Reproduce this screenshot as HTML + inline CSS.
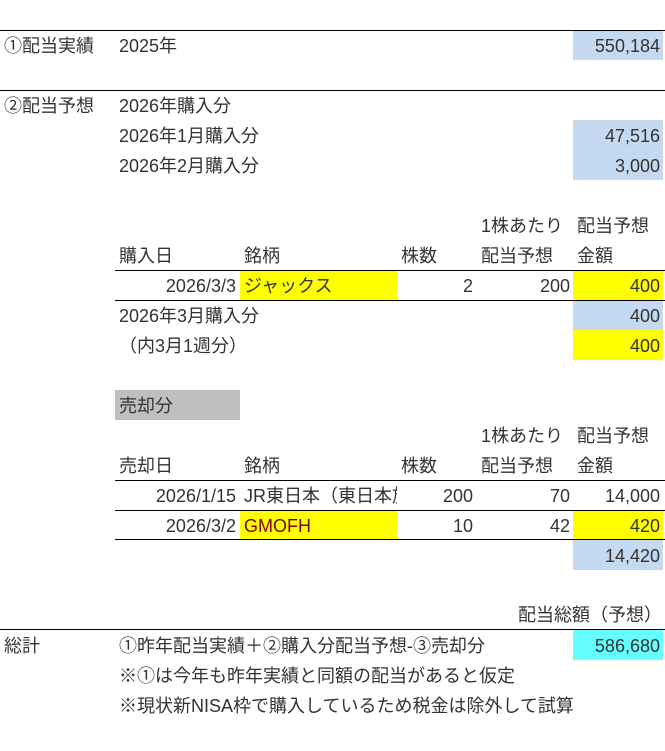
<!DOCTYPE html>
<html><head><meta charset="utf-8"><style>
body{margin:0;width:665px;height:751px;background:#fff;position:relative;overflow:hidden;font-family:"Liberation Sans","Noto Sans CJK JP",sans-serif;font-size:18px;color:#333}
div{position:absolute}
.t{height:30px;line-height:32px;white-space:nowrap}
.r{text-align:right}
.h{height:1px;background:#000}
.b{background:#c5d9f1}.y{background:#ffff00}.g{background:#bfbfbf}.c{background:#66ffff}
</style></head><body>
<div class="h" style="left:0;top:30px;width:665px"></div>
<div class="h" style="left:0;top:90px;width:665px"></div>
<div class="h" style="left:115px;top:270px;width:550px"></div>
<div class="h" style="left:115px;top:300px;width:550px"></div>
<div class="h" style="left:115px;top:480px;width:550px"></div>
<div class="h" style="left:115px;top:510px;width:550px"></div>
<div class="h" style="left:115px;top:539px;width:550px"></div>
<div class="h" style="left:0;top:629px;width:665px"></div>

<div class="b" style="left:573px;top:31px;width:90px;height:29px"></div>
<div class="b" style="left:573px;top:120px;width:90px;height:60px"></div>
<div class="y" style="left:240px;top:271px;width:157px;height:29px"></div>
<div class="y" style="left:573px;top:271px;width:90px;height:29px"></div>
<div class="b" style="left:573px;top:301px;width:90px;height:29px"></div>
<div class="y" style="left:573px;top:330px;width:90px;height:30px"></div>
<div class="g" style="left:115px;top:390px;width:125px;height:30px"></div>
<div class="y" style="left:240px;top:511px;width:157px;height:28px"></div>
<div class="y" style="left:573px;top:511px;width:90px;height:28px"></div>
<div class="b" style="left:573px;top:540px;width:90px;height:30px"></div>
<div class="c" style="left:573px;top:630px;width:90px;height:30px"></div>

<div class="t" style="left:4px;top:30px">①配当実績</div>
<div class="t" style="left:119px;top:30px">2025年</div>
<div class="t r" style="right:5px;top:30px">550,184</div>
<div class="t" style="left:4px;top:90px">②配当予想</div>
<div class="t" style="left:119px;top:90px">2026年購入分</div>
<div class="t" style="left:119px;top:120px">2026年1月購入分</div>
<div class="t r" style="right:5px;top:120px">47,516</div>
<div class="t" style="left:119px;top:150px">2026年2月購入分</div>
<div class="t r" style="right:5px;top:150px">3,000</div>

<div class="t" style="left:481px;top:210px">1株あたり</div>
<div class="t" style="left:577px;top:210px">配当予想</div>
<div class="t" style="left:119px;top:240px">購入日</div>
<div class="t" style="left:244px;top:240px">銘柄</div>
<div class="t" style="left:401px;top:240px">株数</div>
<div class="t" style="left:481px;top:240px">配当予想</div>
<div class="t" style="left:577px;top:240px">金額</div>
<div class="t r" style="right:429px;top:270px">2026/3/3</div>
<div class="t" style="left:244px;top:270px">ジャックス</div>
<div class="t r" style="right:192px;top:270px">2</div>
<div class="t r" style="right:95px;top:270px">200</div>
<div class="t r" style="right:5px;top:270px">400</div>
<div class="t" style="left:119px;top:300px">2026年3月購入分</div>
<div class="t r" style="right:5px;top:300px">400</div>
<div class="t" style="left:119px;top:330px">（内3月1週分）</div>
<div class="t r" style="right:5px;top:330px">400</div>

<div class="t" style="left:119px;top:390px">売却分</div>
<div class="t" style="left:481px;top:420px">1株あたり</div>
<div class="t" style="left:577px;top:420px">配当予想</div>
<div class="t" style="left:119px;top:450px">売却日</div>
<div class="t" style="left:244px;top:450px">銘柄</div>
<div class="t" style="left:401px;top:450px">株数</div>
<div class="t" style="left:481px;top:450px">配当予想</div>
<div class="t" style="left:577px;top:450px">金額</div>
<div class="t r" style="right:429px;top:480px">2026/1/15</div>
<div class="t" style="left:244px;top:480px;width:153px;overflow:hidden">JR東日本（東日本旅客鉄道）</div>
<div class="t r" style="right:192px;top:480px">200</div>
<div class="t r" style="right:95px;top:480px">70</div>
<div class="t r" style="right:5px;top:480px">14,000</div>
<div class="t r" style="right:429px;top:510px">2026/3/2</div>
<div class="t" style="left:244px;top:510px;color:#800000">GMOFH</div>
<div class="t r" style="right:192px;top:510px">10</div>
<div class="t r" style="right:95px;top:510px">42</div>
<div class="t r" style="right:5px;top:510px">420</div>
<div class="t r" style="right:5px;top:540px">14,420</div>

<div class="t r" style="right:3px;top:599px">配当総額（予想）</div>
<div class="t" style="left:4px;top:630px">総計</div>
<div class="t" style="left:119px;top:630px">①昨年配当実績＋②購入分配当予想-③売却分</div>
<div class="t r" style="right:5px;top:630px">586,680</div>
<div class="t" style="left:119px;top:660px">※①は今年も昨年実績と同額の配当があると仮定</div>
<div class="t" style="left:119px;top:690px">※現状新NISA枠で購入しているため税金は除外して試算</div>
</body></html>
